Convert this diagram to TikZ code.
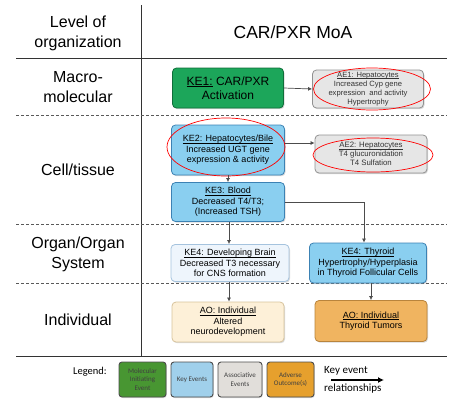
\documentclass[tikz,border=0pt]{standalone}
\usepackage{fontspec}
\setmainfont{Liberation Sans}
\newfontfamily\legendfont{Carlito}
\usepackage{xcolor}
\usetikzlibrary{positioning,arrows.meta,shadows}

\definecolor{mieGreen}{RGB}{28,166,90}
\definecolor{mieGreenDark}{RGB}{16,110,58}
\definecolor{keBlue}{RGB}{138,207,240}
\definecolor{keBlueDark}{RGB}{60,130,180}
\definecolor{aeGray}{RGB}{230,230,230}
\definecolor{aeGrayDark}{RGB}{145,145,145}
\definecolor{brainBlue}{RGB}{238,245,252}
\definecolor{brainBlueDark}{RGB}{165,195,222}
\definecolor{aoCream}{RGB}{253,240,216}
\definecolor{aoCreamDark}{RGB}{215,195,155}
\definecolor{aoOrange}{RGB}{240,180,96}
\definecolor{aoOrangeDark}{RGB}{185,132,60}
\definecolor{lgGreen}{RGB}{72,150,50}
\definecolor{lgBlue}{RGB}{160,208,235}
\definecolor{lgGray}{RGB}{225,222,218}
\definecolor{lgOrange}{RGB}{230,160,45}

% underline sitting close to the baseline
\newsavebox{\ulbox}
\newcommand{\ulabel}[1]{\sbox{\ulbox}{#1}\rlap{\rule[-1.4pt]{\wd\ulbox}{0.5pt}}\usebox{\ulbox}}

\begin{document}
\begin{tikzpicture}[
    x=1pt, y=-1pt,
    >={Latex[length=4pt,width=4pt]},
    every box/.style={rectangle, rounded corners=4pt, draw, line width=0.8pt, align=center, inner sep=1pt,
        drop shadow={opacity=0.3, shadow xshift=1pt, shadow yshift=-1.2pt}},
    mie box/.style={every box, fill=mieGreen, draw=mieGreenDark, font=\fontsize{12}{14}\selectfont},
    ke box/.style={every box, fill=keBlue, draw=keBlueDark, font=\fontsize{9}{10.5}\selectfont},
    brain box/.style={every box, fill=brainBlue, draw=brainBlueDark, font=\fontsize{9}{10.5}\selectfont},
    ae box/.style={every box, fill=aeGray, draw=aeGrayDark, text=black!80, font=\fontsize{7.6}{9.2}\selectfont},
    ao box/.style={every box, fill=aoCream, draw=aoCreamDark, font=\fontsize{9}{10.5}\selectfont},
    tumor box/.style={every box, fill=aoOrange, draw=aoOrangeDark, font=\fontsize{9}{10.5}\selectfont},
    legend box/.style={rectangle, rounded corners=3pt, draw=black!70, line width=0.9pt, align=center,
        inner sep=0pt, minimum height=35, font=\legendfont\fontsize{7}{8.5}\selectfont, text=black!75,
        drop shadow={opacity=0.3, shadow xshift=0.8pt, shadow yshift=-1pt}},
    level label/.style={align=center, font=\fontsize{16}{20}\selectfont},
    hint/.style={red, line width=0.7pt},
    link/.style={->, black!70, line width=0.7pt}
]
    \useasboundingbox (0,0) rectangle (468,410);

    % grid of levels
    \draw[black!80, line width=0.9pt] (141.5,5) -- (141.5,356);
    \draw[black!80, line width=0.9pt] (16,58) -- (447,58);
    \draw[black!80, line width=0.9pt] (16,356) -- (447,356);
    \foreach \y in {115,224,283}
      \draw[black!65, line width=0.9pt, dash pattern=on 3pt off 2pt] (16,\y) -- (447,\y);

    \node[level label] (lvl-head) at (78,33) {Level of\\organization};
    \node[font=\fontsize{17.5}{20}\selectfont] (moa) at (293,32) {CAR/PXR MoA};
    \node[level label] (lvl-macro) at (78,87) {Macro-\\molecular};
    \node[level label] (lvl-cell) at (78,170) {Cell/tissue};
    \node[level label] (lvl-organ) at (78,254) {Organ/Organ\\System};
    \node[level label] (lvl-ind) at (78,320) {Individual};

    % events
    \node[mie box, minimum width=111, minimum height=40] (ke1) at (228,88)
      {\ulabel{KE1:} CAR/PXR\\Activation};
    \node[ae box, minimum width=111, minimum height=38] (ae1) at (368,89)
      {\ulabel{AE1: Hepatocytes}\\Increased Cyp gene\\expression\ \ and activity\\Hypertrophy};
    \node[ke box, minimum width=113, minimum height=50] (ke2) at (228,150)
      {\ulabel{KE2: Hepatocytes/Bile}\\Increased UGT gene\\expression \& activity};
    \node[ae box, minimum width=112, minimum height=38, font=\fontsize{7.8}{9}\selectfont] (ae2) at (371,154)
      {\ulabel{AE2: Hepatocytes}\\T4 glucuronidation\\T4 Sulfation};
    \node[ke box, minimum width=113, minimum height=39] (ke3) at (228,202)
      {\ulabel{KE3: Blood}\\Decreased T4/T3;\\(Increased TSH)};
    \node[brain box, minimum width=118, minimum height=37] (ke4-brain) at (230,263)
      {\ulabel{KE4: Developing Brain}\\Decreased T3 necessary\\for CNS formation};
    \node[ke box, minimum width=117, minimum height=40] (ke4-thy) at (368,263)
      {\ulabel{KE4: Thyroid}\\Hypertrophy/Hyperplasia\\in Thyroid Follicular Cells};
    \node[ao box, minimum width=112, minimum height=40] (ao-neuro) at (228,322)
      {\ulabel{AO: Individual}\\Altered\\neurodevelopment};
    \node[tumor box, minimum width=112, minimum height=41] (ao-tumor) at (371,321)
      {\ulabel{AO: Individual}\\Thyroid Tumors};

    % red marks
    \draw[hint] (372,89) ellipse (58.5 and 21);
    \draw[hint] (226,147) ellipse (59 and 29);
    \draw[hint] (373,155) ellipse (60 and 17);

    % relationships
    \draw[link] (ke1.east) -- (ae1.west);
    \draw[link] ([yshift=7pt]ke2.east) -- ([yshift=7pt]ke2.east -| ae2.west);
    \draw[link] (ke2.south) -- (ke3.north);
    \draw[link] ([xshift=1pt]ke3.south) -- ([xshift=1pt]ke3.south |- ke4-brain.north);
    \draw[link] (ke3.east) -| ([xshift=-4pt]ke4-thy.north);
    \draw[link] ([xshift=-1pt]ke4-brain.south) -- ([xshift=-1pt]ke4-brain.south |- ao-neuro.north);
    \draw[link] (ao-tumor.north |- ke4-thy.south) -- (ao-tumor.north);

    % legend
    \node[font=\legendfont\fontsize{10.5}{12}\selectfont] (lg-title) at (90,372) {Legend:};
    \node[legend box, fill=lgGreen, minimum width=47] (lg-mie) at (142.5,379.5) {Molecular\\Initiating\\Event};
    \node[legend box, fill=lgBlue, minimum width=42] (lg-ke) at (192,379.5) {Key Events};
    \node[legend box, fill=lgGray, minimum width=44] (lg-ae) at (240,379.5) {Associative\\Events};
    \node[legend box, fill=lgOrange, minimum width=47] (lg-ao) at (290.5,379.5) {Adverse\\Outcome(s)};
    \node[font=\legendfont\fontsize{11}{13}\selectfont, anchor=west, inner sep=0pt] (lg-ker) at (324,371) {Key event};
    \node[font=\legendfont\fontsize{11}{13}\selectfont, anchor=west, inner sep=0pt] (lg-rel) at (324,389) {relationships};
    \coordinate (lg-from) at (331,380);
    \coordinate (lg-to) at (384,380);
    \draw[-{Latex[length=6pt,width=6pt]}, line width=1.6pt] (lg-from) -- (lg-to);
\end{tikzpicture}
\end{document}
